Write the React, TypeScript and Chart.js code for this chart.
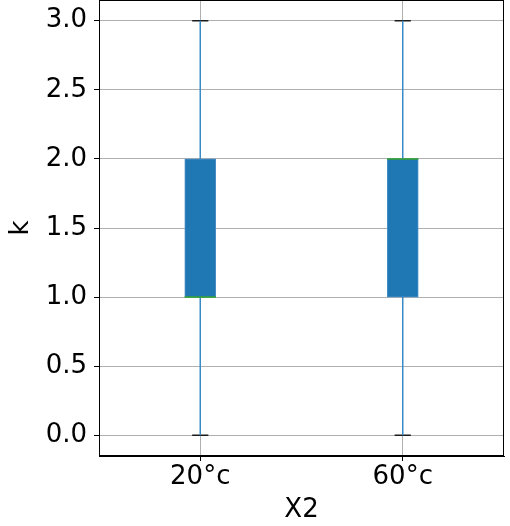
import React, { useEffect, useRef } from "react";
import { Chart, registerables } from "chart.js";

Chart.register(...registerables);

const CATEGORIES = ["20°c", "60°c"];
const POSITIONS = [1, 2];
const WHISKER_LOW = [0, 0];
const Q1 = [1, 1];
const MEDIAN = [1, 2];
const Q3 = [2, 2];
const WHISKER_HIGH = [3, 3];
const Y_TICKS = [0, 0.5, 1, 1.5, 2, 2.5, 3];

const BOX_HALF = 0.077;
const CAP_HALF = 0.04;
const FONT = "'DejaVu Sans', sans-serif";

const framePlugin = {
  id: "frame",
  afterDraw(chart: any) {
    const { ctx, chartArea } = chart;
    ctx.save();
    ctx.strokeStyle = "#000";
    ctx.lineWidth = 1;
    ctx.strokeRect(
      Math.round(chartArea.left) + 0.5,
      Math.round(chartArea.top) + 0.5,
      Math.round(chartArea.right - chartArea.left) - 1,
      Math.round(chartArea.bottom - chartArea.top) - 1
    );
    ctx.restore();
  },
};

export default function App() {
  const ref = useRef<HTMLCanvasElement>(null);

  useEffect(() => {
    if (!ref.current) return;
    document.body.style.margin = "0";

    const brk = (x: number) => ({ x, y: null as any });
    const whiskers: any[] = [];
    const caps: any[] = [];
    const medians: any[] = [];
    POSITIONS.forEach((p, i) => {
      whiskers.push({ x: p, y: WHISKER_LOW[i] }, { x: p, y: Q1[i] }, brk(p));
      whiskers.push({ x: p, y: Q3[i] }, { x: p, y: WHISKER_HIGH[i] }, brk(p));
      caps.push({ x: p - CAP_HALF, y: WHISKER_LOW[i] }, { x: p + CAP_HALF, y: WHISKER_LOW[i] }, brk(p));
      caps.push({ x: p - CAP_HALF, y: WHISKER_HIGH[i] }, { x: p + CAP_HALF, y: WHISKER_HIGH[i] }, brk(p));
      medians.push({ x: p - BOX_HALF, y: MEDIAN[i] }, { x: p + BOX_HALF, y: MEDIAN[i] }, brk(p));
    });

    const lineBase = {
      type: "line" as const,
      pointRadius: 0,
      borderWidth: 1.5,
      fill: false,
      tension: 0,
      spanGaps: false,
    };

    const chart = new Chart(ref.current, {
      type: "bar",
      data: {
        datasets: [
          {
            ...lineBase,
            data: medians,
            borderColor: "#2ca02c",
            borderWidth: 1.5,
            order: 0,
          } as any,
          {
            type: "bar",
            data: POSITIONS.map((p, i) => ({ x: p, y: [Q1[i], Q3[i]] })),
            backgroundColor: "#1f77b4",
            borderColor: "#4a90c8",
            borderWidth: 1,
            borderSkipped: false,
            barThickness: 31,
            order: 1,
          } as any,
          { ...lineBase, data: whiskers, borderColor: "#3a8ac8", order: 2 } as any,
          { ...lineBase, data: caps, borderColor: "#1a1a1a", order: 2 } as any,
        ],
      },
      plugins: [framePlugin],
      options: {
        animation: false,
        responsive: false,
        devicePixelRatio: 1,
        layout: { padding: { top: 0, right: 6, left: 0, bottom: 0 } },
        plugins: { legend: { display: false }, tooltip: { enabled: false } },
        scales: {
          x: {
            type: "linear",
            min: 0.5,
            max: 2.5,
            offset: false,
            afterBuildTicks: (s: any) => {
              s.ticks = POSITIONS.map((v) => ({ value: v }));
            },
            afterFit: (s: any) => {
              s.height = 84;
              s.paddingLeft = 0;
              s.paddingRight = 0;
            },
            ticks: {
              color: "#000",
              font: { family: FONT, size: 26 },
              padding: 1,
              maxRotation: 0,
              callback: (v: any) => CATEGORIES[POSITIONS.indexOf(Number(v))] ?? "",
            },
            grid: {
              offset: false,
              color: "#b0b0b0",
              lineWidth: 1,
              tickColor: "#000",
              tickLength: 5,
            },
            border: { display: true, color: "#000", width: 1 },
            title: {
              display: true,
              text: "X2",
              color: "#000",
              font: { family: FONT, size: 26 },
              padding: { top: 0, bottom: 14 },
            },
          } as any,
          y: {
            type: "linear",
            min: -0.15,
            max: 3.15,
            afterBuildTicks: (s: any) => {
              s.ticks = Y_TICKS.map((v) => ({ value: v }));
            },
            afterFit: (s: any) => {
              s.width = 99;
              s.paddingTop = 0;
              s.paddingBottom = 0;
            },
            ticks: {
              color: "#000",
              font: { family: FONT, size: 26 },
              padding: 7,
              callback: (v: any) => Number(v).toFixed(1),
            },
            grid: {
              color: "#b0b0b0",
              lineWidth: 1,
              tickColor: "#000",
              tickLength: 5,
            },
            border: { display: true, color: "#000", width: 1 },
            title: {
              display: true,
              text: "k",
              color: "#000",
              font: { family: FONT, size: 26 },
              padding: { top: 6, bottom: 0 },
            },
          } as any,
        },
      },
    });
    return () => chart.destroy();
  }, []);

  return (
    <div style={{ position: "fixed", left: 0, top: 0, width: 510, height: 526, overflow: "hidden", background: "#fff" }}>
      <canvas ref={ref} width={510} height={540} style={{ display: "block" }} />
    </div>
  );
}
